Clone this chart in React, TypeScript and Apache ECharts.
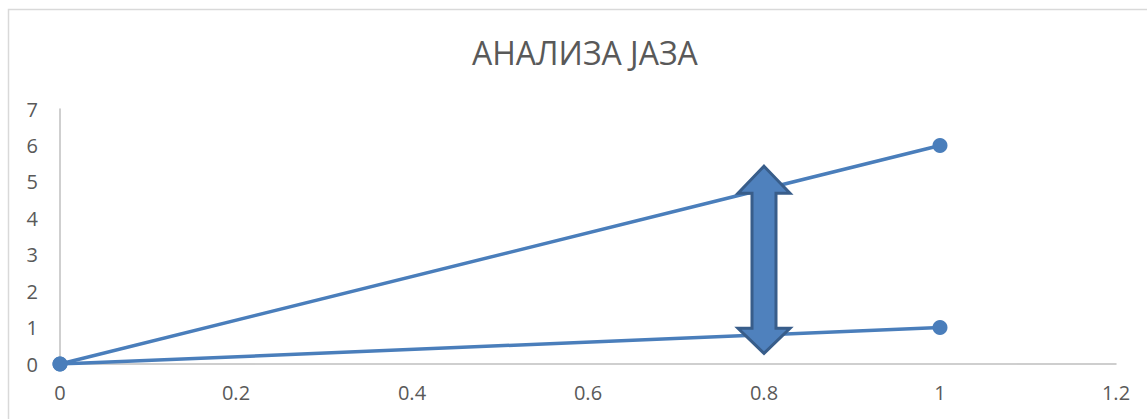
import React, { useEffect, useRef } from "react";
import * as echarts from "echarts";

const titleText = "АНАЛИЗА ЈАЗА";
const xValues = [0, 1];
const upperSeries = [0, 6];
const lowerSeries = [0, 1];
// gap arrow: x position, [bottom tip, bottom shoulder, top shoulder, top tip]
const arrowX = 0.8;
const arrowLevels = [0.29, 0.98, 4.69, 5.43];

const FONT = "'Open Sans', 'Noto Sans', sans-serif";
const LINE_COLOR = "#4A7EBB";

export default function App() {
  const ref = useRef<HTMLDivElement>(null);
  useEffect(() => {
    if (!ref.current) return;
    const chart = echarts.init(ref.current, null, { renderer: "svg" });
    const mk = (ys: number[]) => xValues.map((x, i) => [x, ys[i]]);
    chart.setOption({
      animation: false,
      backgroundColor: "#ffffff",
      title: {
        text: titleText,
        left: 467,
        top: 31,
        textStyle: { fontFamily: FONT, fontSize: 32, fontWeight: "normal", color: "#595959" },
      },
      grid: { left: 60, right: 31, top: 109, bottom: 55 },
      xAxis: {
        type: "value",
        min: 0,
        max: 1.2,
        interval: 0.2,
        axisLine: { show: true, lineStyle: { color: "#BFBFBF", width: 1.5 } },
        axisTick: { show: false },
        splitLine: { show: false },
        axisLabel: { color: "#595959", fontFamily: FONT, fontSize: 20, margin: 18 },
      },
      yAxis: {
        type: "value",
        min: 0,
        max: 7,
        interval: 1,
        axisLine: { show: true, lineStyle: { color: "#BFBFBF", width: 1.5 } },
        axisTick: { show: false },
        splitLine: { show: false },
        axisLabel: { color: "#595959", fontFamily: FONT, fontSize: 20, margin: 22 },
      },
      series: [
        {
          type: "line",
          data: mk(upperSeries),
          symbol: "circle",
          symbolSize: 15,
          lineStyle: { color: LINE_COLOR, width: 3.5 },
          itemStyle: { color: LINE_COLOR },
        },
        {
          type: "line",
          data: mk(lowerSeries),
          symbol: "circle",
          symbolSize: 15,
          lineStyle: { color: LINE_COLOR, width: 3.5 },
          itemStyle: { color: LINE_COLOR },
        },
      ],
    });

    const px = (x: number, y: number) => chart.convertToPixel({ gridIndex: 0 }, [x, y]) as number[];
    const cx = px(arrowX, 0)[0];
    const [yb, ysb, yst, yt] = arrowLevels.map((v) => px(arrowX, v)[1]);
    const hw = 26;
    const sw = 12;
    chart.setOption({
      graphic: [
        {
          type: "rect",
          silent: true,
          shape: { x: 8.5, y: 9.5, width: 1300, height: 600 },
          style: { fill: "none", stroke: "#D9D9D9", lineWidth: 1.5 },
          z: 0,
        },
        {
          type: "polygon",
          z: 100,
          shape: {
            points: [
              [cx, yt],
              [cx + hw, yst],
              [cx + sw, yst],
              [cx + sw, ysb],
              [cx + hw, ysb],
              [cx, yb],
              [cx - hw, ysb],
              [cx - sw, ysb],
              [cx - sw, yst],
              [cx - hw, yst],
            ],
          },
          style: { fill: "#4F81BD", stroke: "#385D8A", lineWidth: 3, lineJoin: "miter" },
        },
      ],
    });

    return () => chart.dispose();
  }, []);
  return (
    <div
      ref={ref}
      style={{ position: "fixed", left: 0, top: 0, width: 1147, height: 419 }}
    />
  );
}
